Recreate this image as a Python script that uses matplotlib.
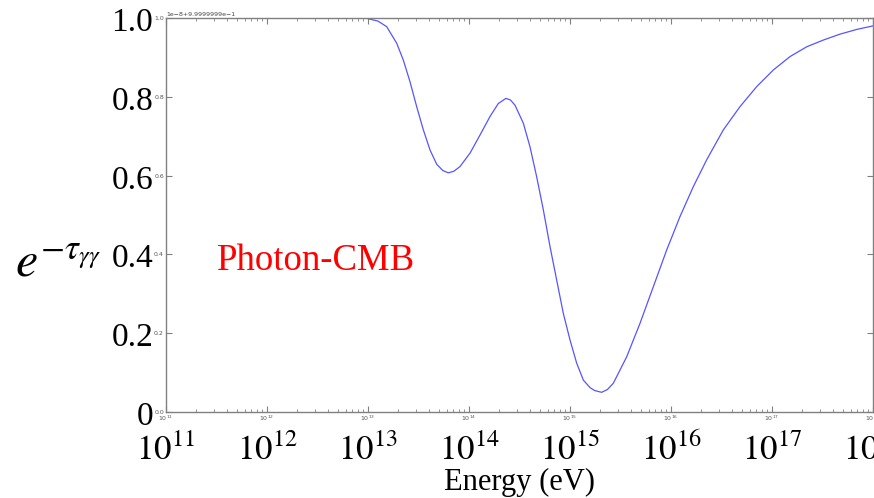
import matplotlib
matplotlib.use('Agg')
import matplotlib.pyplot as plt
from matplotlib.ticker import FixedLocator, FormatStrFormatter

# values (log10 of energy in eV, attenuation e^-tau)
log_energy = [11.0, 12.0, 12.9, 12.98, 13.02, 13.1, 13.185, 13.284, 13.35,
              13.416, 13.482, 13.548, 13.614, 13.68, 13.74, 13.795, 13.85,
              13.911, 14.01, 14.109, 14.208, 14.29, 14.366, 14.41, 14.455,
              14.538, 14.604, 14.67, 14.736, 14.802, 14.868, 14.934, 15.0,
              15.066, 15.132, 15.198, 15.24, 15.28, 15.314, 15.37, 15.429,
              15.561, 15.693, 15.825, 15.957, 16.089, 16.221, 16.353, 16.518,
              16.683, 16.849, 17.013, 17.178, 17.344, 17.508, 17.673, 17.839,
              18.0]
attenuation = [1.0, 1.0, 1.0, 1.0, 0.997, 0.992, 0.978, 0.936, 0.893,
               0.838, 0.775, 0.716, 0.665, 0.629, 0.613, 0.607, 0.611,
               0.623, 0.657, 0.703, 0.75, 0.783, 0.796, 0.792, 0.779,
               0.733, 0.673, 0.597, 0.513, 0.42, 0.335, 0.25, 0.183,
               0.124, 0.081, 0.062, 0.055, 0.052, 0.05, 0.057, 0.073,
               0.14, 0.225, 0.318, 0.411, 0.496, 0.572, 0.64, 0.716,
               0.775, 0.826, 0.868, 0.902, 0.927, 0.944, 0.959, 0.971,
               0.98]

y_ticks = [0.0, 0.2, 0.4, 0.6, 0.8, 1.0]
y_big_labels = ['0', '0.2', '0.4', '0.6', '0.8', '1.0']
x_decades = [11, 12, 13, 14, 15, 16, 17, 18]

plt.rcParams['mathtext.fontset'] = 'stix'
serif = 'Liberation Serif'

fig = plt.figure(figsize=(8.74, 4.98), dpi=100)
fig.patch.set_facecolor('white')
ax = fig.add_axes([166 / 874, 86 / 498, 707 / 874, 394 / 498])

energy = [10.0 ** v for v in log_energy]
ax.plot(energy, attenuation, color='#5555ff', lw=0.9)

ax.set_xscale('log')
ax.set_xlim(1e11, 1e18)
ax.set_ylim(0, 1.0)
ax.yaxis.set_major_locator(FixedLocator(y_ticks))
ax.yaxis.set_major_formatter(FormatStrFormatter('%.1f'))

for s in ax.spines.values():
    s.set_color('#808080')
    s.set_linewidth(1.0)
ax.tick_params(which='both', direction='in', top=True, right=True,
               colors='#808080', labelcolor='#555555', labelsize=4.5, pad=1.5)
ax.tick_params(which='major', length=4)
ax.tick_params(which='minor', length=2)

# offset text left by the original plot
ax.text(0.0, 1.002, '1e\u22128+9.9999999e\u22121', transform=ax.transAxes,
        fontsize=4.5, color='#444444', va='bottom', ha='left')

# big slide labels laid over the plot
for val, lab in zip(y_ticks, y_big_labels):
    ax.text(-0.018, val - 0.012, lab, transform=ax.get_yaxis_transform(),
            ha='right', va='center', fontsize=24, family=serif, clip_on=False)

for d in x_decades:
    ax.text(10.0 ** d, -0.122, r'$10^{%d}$' % d,
            transform=ax.get_xaxis_transform(), ha='center', va='baseline',
            fontsize=25, clip_on=False)

fig.text(520 / 874, 1 - 490 / 498, 'Energy (eV)', ha='center', va='baseline',
         fontsize=22, family=serif)
fig.text(217 / 874, 1 - 270 / 498, 'Photon-CMB', ha='left', va='baseline',
         fontsize=26.5, family=serif, color='red')
fig.text(15 / 874, 1 - 276 / 498, r'$e^{-\tau_{\gamma\gamma}}$', ha='left',
         va='baseline', fontsize=36)

fig.savefig('out.png', dpi=100, facecolor='white')
